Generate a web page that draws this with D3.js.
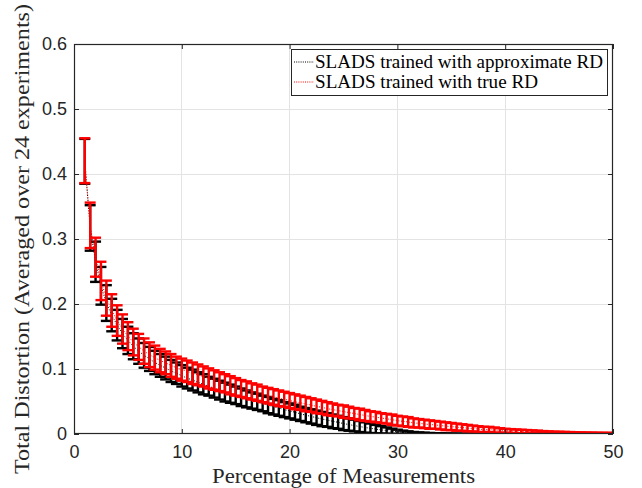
<!DOCTYPE html>
<html>
<head>
<meta charset="utf-8">
<script src="https://cdn.jsdelivr.net/npm/d3@7"></script>
<style>
  body { margin: 0; background: #ffffff; }
  svg { display: block; }
</style>
</head>
<body>
<svg id="chart" width="642" height="488"></svg>
<script>
// Percentage of pixels measured (x positions of every error bar)
const percentMeasured = [
  1, 1.5, 2, 2.5, 3, 3.5, 4, 4.5, 5, 5.5, 6, 6.5, 7, 7.5, 8, 8.5, 9, 9.5, 10, 10.5,
  11, 11.5, 12, 12.5, 13, 13.5, 14, 14.5, 15, 15.5, 16, 16.5, 17, 17.5, 18, 18.5, 19, 19.5, 20, 20.5,
  21, 21.5, 22, 22.5, 23, 23.5, 24, 24.5, 25, 25.5, 26, 26.5, 27, 27.5, 28, 28.5, 29, 29.5, 30, 30.5,
  31, 31.5, 32, 32.5, 33, 33.5, 34, 34.5, 35, 35.5, 36, 36.5, 37, 37.5, 38, 38.5, 39, 39.5, 40, 40.5,
  41, 41.5, 42, 42.5, 43, 43.5, 44, 44.5, 45, 45.5, 46, 46.5, 47, 47.5, 48, 48.5, 49, 49.5, 50
];

// SLADS trained with approximate RD: mean total distortion and spread
const approxMean = [
  .4195, .317, .265, .228, .2015, .183, .1675, .1545, .144, .135, .1275, .121, .1155, .110, .1055, .1015, .097, .0935, .0895, .086,
  .083, .0795, .0765, .0735, .0705, .0675, .0645, .062, .0595, .0565, .054, .0515, .0495, .047, .0445, .042, .040, .0375, .0355, .0335,
  .031, .029, .027, .025, .023, .0215, .0195, .018, .016, .0145, .013, .0115, .010, .0088, .0075, .0064, .0053, .0042, .0034, .0027,
  .0021, .0016, .0013, .0010, .0008, .0006, .0005, .0004, .0003, .0002, .0002, .0002, .0002, .0002, .0002, .0002, .0002, .0002, .0001, .0001,
  .0001, .0001, .0001, .0001, .0001, .0001, .0001, .0001, .0001, .0001, .0001, .0001, .0001, .0001, .0001, .0001, .0001, .0001, .0001
];
const approxErr = [
  .0345, .035, .031, .029, .0275, .025, .0235, .0225, .021, .020, .0195, .019, .0185, .018, .0175, .0175, .017, .0165, .0165, .016,
  .016, .0155, .0155, .0145, .0145, .0145, .0145, .014, .0135, .0135, .013, .0125, .0125, .012, .0125, .012, .012, .0115, .0115, .0115,
  .011, .011, .011, .011, .011, .0105, .0105, .010, .010, .0095, .009, .0085, .008, .0073, .0065, .0057, .0048, .0040, .0032, .0025,
  .0020, .0015, .0012, .0010, .0008, .0006, .0005, .0004, .0003, .0002, .0002, .0002, .0002, .0002, .0002, .0002, .0002, .0002, .0001, .0001,
  .0001, .0001, .0001, .0001, .0001, .0001, .0001, .0001, .0001, .0001, .0001, .0001, .0001, .0001, .0001, .0001, .0001, .0001, .0001
];

// SLADS trained with true RD: mean total distortion and spread
const trueMean = [
  .4205, .321, .272, .2355, .209, .190, .1745, .1615, .1505, .1415, .134, .1275, .122, .1175, .113, .1095, .1055, .102, .099, .0965,
  .0935, .091, .0885, .0855, .083, .0805, .078, .075, .0725, .070, .068, .0655, .0635, .061, .059, .057, .055, .0535, .0515, .0495,
  .048, .046, .0445, .0425, .041, .039, .0375, .036, .0345, .033, .0315, .030, .0285, .027, .026, .0245, .0235, .022, .0205, .0195,
  .0185, .017, .0165, .0155, .0145, .014, .013, .012, .0115, .0105, .010, .009, .0085, .0075, .007, .007, .006, .0055, .005, .0045,
  .004, .0038, .0035, .0032, .003, .0025, .0023, .002, .002, .0018, .0017, .0015, .0014, .0013, .0012, .0011, .001, .001, .0009
];
const trueErr = [
  .0345, .035, .030, .0295, .027, .025, .0235, .0225, .0215, .0205, .020, .0195, .019, .0185, .018, .0175, .0175, .017, .017, .0165,
  .0165, .016, .0155, .0155, .015, .0145, .014, .014, .0135, .013, .013, .0125, .0125, .012, .012, .012, .012, .0115, .0115, .0115,
  .011, .011, .0105, .0105, .010, .010, .0095, .009, .0095, .009, .0085, .009, .0085, .008, .008, .0075, .0075, .008, .0075, .0075,
  .0075, .007, .0065, .0065, .0065, .006, .006, .006, .0055, .0055, .005, .005, .0045, .0045, .004, .004, .004, .0035, .003, .003,
  .003, .0028, .0026, .0024, .0022, .002, .0018, .0016, .0015, .0014, .0013, .0012, .0011, .001, .001, .0009, .0009, .0008, .0008
];

const seriesNames = ["SLADS trained with approximate RD", "SLADS trained with true RD"];
const seriesColors = ["#000000", "#ff0000"];
const xTicks = [0, 10, 20, 30, 40, 50];
const yTicks = [0, 0.1, 0.2, 0.3, 0.4, 0.5, 0.6];
const xTitle = "Percentage of Measurements";
const yTitle = "Total Distortion (Averaged over 24 experiments)";

// ---- layout ----
const plot = { left: 74, right: 613, top: 44, bottom: 434 };
const axisColor = "#262626";
const gridColor = "#e3e3e3";
const tickFont = "'Liberation Sans', Arial, Helvetica, sans-serif";
const serifFont = "'Liberation Serif', 'Times New Roman', serif";

const svg = d3.select("#chart");

const x = d3.scaleLinear().domain([0, 50]).range([plot.left, plot.right]);
const y = d3.scaleLinear().domain([0, 0.6]).range([plot.bottom, plot.top]);

svg.append("defs").append("clipPath").attr("id", "plot-clip")
  .append("rect")
  .attr("x", plot.left).attr("y", plot.top)
  .attr("width", plot.right - plot.left).attr("height", plot.bottom - plot.top);

// grid
const grid = svg.append("g");
grid.selectAll("line.gx").data(xTicks.slice(1, -1)).join("line")
  .attr("x1", d => x(d)).attr("x2", d => x(d))
  .attr("y1", plot.top).attr("y2", plot.bottom)
  .attr("stroke", gridColor).attr("stroke-width", 1).attr("shape-rendering", "crispEdges");
grid.selectAll("line.gy").data(yTicks.slice(1, -1)).join("line")
  .attr("x1", plot.left).attr("x2", plot.right)
  .attr("y1", d => y(d)).attr("y2", d => y(d))
  .attr("stroke", gridColor).attr("stroke-width", 1).attr("shape-rendering", "crispEdges");

// series
const series = [
  { mean: approxMean, err: approxErr, color: seriesColors[0] },
  { mean: trueMean, err: trueErr, color: seriesColors[1] }
];
const capHalf = 5.5;
const marks = svg.append("g").attr("clip-path", "url(#plot-clip)");

series.forEach(s => {
  const pts = percentMeasured.map((p, i) => ({ p, m: s.mean[i], e: s.err[i] }));
  const g = marks.append("g");
  const bars = g.selectAll("g.bar").data(pts).join("g");
  bars.append("line")
    .attr("x1", d => x(d.p)).attr("x2", d => x(d.p))
    .attr("y1", d => y(d.m + d.e)).attr("y2", d => y(d.m - d.e))
    .attr("stroke", s.color).attr("stroke-width", 2.4);
  bars.append("line")
    .attr("x1", d => x(d.p) - capHalf).attr("x2", d => x(d.p) + capHalf)
    .attr("y1", d => y(d.m + d.e)).attr("y2", d => y(d.m + d.e))
    .attr("stroke", s.color).attr("stroke-width", 2.4);
  bars.append("line")
    .attr("x1", d => x(d.p) - capHalf).attr("x2", d => x(d.p) + capHalf)
    .attr("y1", d => y(d.m - d.e)).attr("y2", d => y(d.m - d.e))
    .attr("stroke", s.color).attr("stroke-width", 2.4);
  g.append("path")
    .datum(pts)
    .attr("d", d3.line().x(d => x(d.p)).y(d => y(d.m)))
    .attr("fill", "none").attr("stroke", s.color)
    .attr("stroke-width", 1).attr("stroke-dasharray", "1,1.6");
});

// axes (ticks point inward, box on all four sides)
function styleAxis(g) {
  g.select(".domain").remove();
  g.selectAll(".tick line").attr("stroke", axisColor).attr("stroke-width", 1);
  g.selectAll(".tick text").attr("fill", axisColor)
    .style("font-family", tickFont).style("font-size", "18px");
}
svg.append("g").attr("transform", `translate(0,${plot.bottom})`)
  .call(d3.axisBottom(x).tickValues(xTicks).tickSize(-5).tickPadding(11).tickFormat(d3.format("d")))
  .call(styleAxis);
svg.append("g").attr("transform", `translate(0,${plot.top})`)
  .call(d3.axisTop(x).tickValues(xTicks).tickSize(-5).tickFormat(""))
  .call(styleAxis);
svg.append("g").attr("transform", `translate(${plot.left},0)`)
  .call(d3.axisLeft(y).tickValues(yTicks).tickSize(-5).tickPadding(7).tickFormat(d => d === 0 ? "0" : d3.format(".1f")(d)))
  .call(styleAxis);
svg.append("g").attr("transform", `translate(${plot.right},0)`)
  .call(d3.axisRight(y).tickValues(yTicks).tickSize(-5).tickFormat(""))
  .call(styleAxis);

svg.append("rect")
  .attr("x", plot.left + 0.5).attr("y", plot.top + 0.5)
  .attr("width", plot.right - plot.left - 1).attr("height", plot.bottom - plot.top - 1)
  .attr("fill", "none").attr("stroke", axisColor).attr("stroke-width", 1.2);

// axis titles
svg.append("text")
  .attr("x", (plot.left + plot.right) / 2).attr("y", 483)
  .attr("text-anchor", "middle")
  .attr("textLength", 263).attr("lengthAdjust", "spacingAndGlyphs")
  .style("font-family", serifFont).style("font-size", "20px").attr("fill", axisColor)
  .text(xTitle);
svg.append("text")
  .attr("transform", `translate(29,${(plot.top + plot.bottom) / 2}) rotate(-90)`)
  .attr("text-anchor", "middle")
  .attr("textLength", 470).attr("lengthAdjust", "spacingAndGlyphs")
  .style("font-family", serifFont).style("font-size", "20px").attr("fill", axisColor)
  .text(yTitle);

// legend
const legend = svg.append("g");
legend.append("rect")
  .attr("x", 291.5).attr("y", 49.5).attr("width", 316).attr("height", 46)
  .attr("fill", "#ffffff").attr("stroke", axisColor).attr("stroke-width", 1);
const legendRows = [
  { name: seriesNames[0], color: seriesColors[0], cy: 62, len: 288 },
  { name: seriesNames[1], color: seriesColors[1], cy: 82, len: 223 }
];
legendRows.forEach(r => {
  legend.append("line")
    .attr("x1", 294).attr("x2", 314).attr("y1", r.cy).attr("y2", r.cy)
    .attr("stroke", r.color).attr("stroke-width", 1).attr("stroke-dasharray", "1,1.2");
  legend.append("text")
    .attr("x", 315).attr("y", r.cy + 6)
    .attr("textLength", r.len).attr("lengthAdjust", "spacingAndGlyphs")
    .style("font-family", serifFont).style("font-size", "18px").attr("fill", "#000")
    .text(r.name);
});
</script>
</body>
</html>
